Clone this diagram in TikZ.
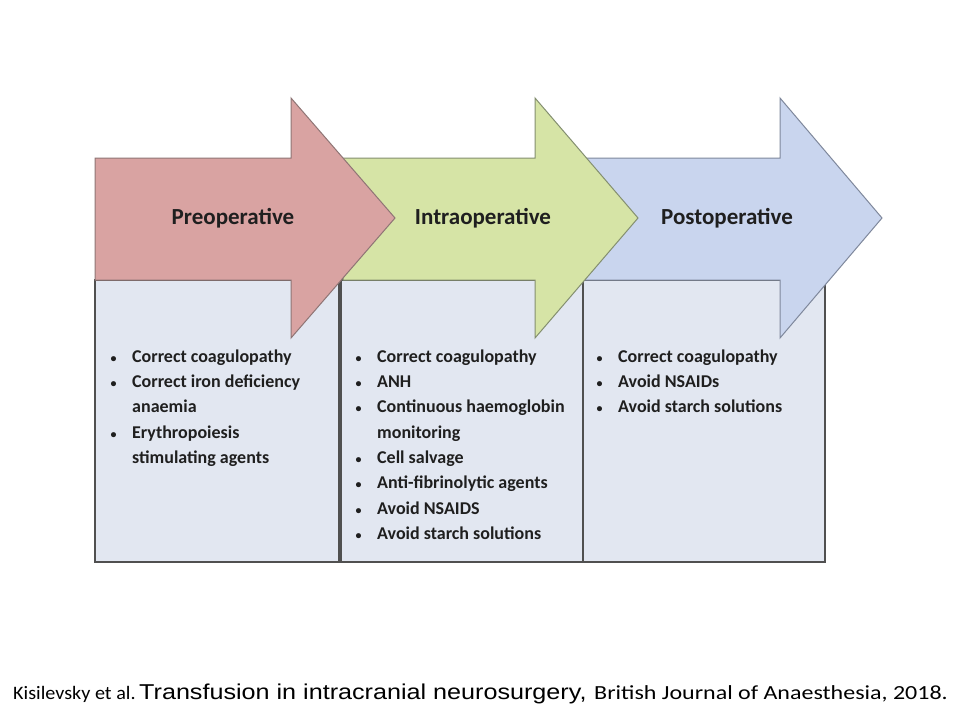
\documentclass[tikz,border=0pt]{standalone}
\usepackage{fontspec}
\usepackage{graphicx}
\setmainfont{Carlito}
\newfontfamily\arialf{Liberation Sans}
\definecolor{pinkf}{HTML}{D9A3A2}
\definecolor{pinkd}{HTML}{8F7575}
\definecolor{greenf}{HTML}{D6E4A6}
\definecolor{greend}{HTML}{848F70}
\definecolor{bluef}{HTML}{C9D5EE}
\definecolor{blued}{HTML}{7F889C}
\definecolor{boxf}{HTML}{E2E7F1}
\definecolor{boxd}{HTML}{505050}
\tikzset{
  lowbox/.style={fill=boxf, draw=boxd, line width=1.8pt},
  phase/.style={line width=1pt, line join=miter},
  title/.style={font=\fontsize{23}{27}\selectfont\bfseries, text=black!88, inner sep=0pt},
  blist/.style={font=\fontsize{18}{25.3}\selectfont\bfseries, text=black!88, inner sep=0pt, anchor=north west, align=left},
  foot/.style={inner sep=0pt, anchor=base west, text=black},
}
\newcommand{\bl}{\makebox[19pt][c]{\fontsize{12}{12}\selectfont\textbullet}}
\begin{document}
\begin{tikzpicture}[x=1pt,y=-1pt]
\useasboundingbox (0,0) rectangle (960,720);
\fill[white] (0,0) rectangle (960,720);
% lower boxes
\path[lowbox] (95,280) rectangle (339,562);
\path[lowbox] (341,280) rectangle (583,562);
\path[lowbox] (583,280) rectangle (825,562);
% arrows (drawn back to front)
\draw[phase, fill=bluef, draw=blued] (585,158) -- (780,158) -- (780,98) -- (882,218) -- (780,338) -- (780,280) -- (585,280) -- cycle;
\draw[phase, fill=greenf, draw=greend] (343,158) -- (535,158) -- (535,98) -- (638,218) -- (535,338) -- (535,280) -- (343,280) -- cycle;
\draw[phase, fill=pinkf, draw=pinkd] (95,158) -- (291,158) -- (291,98) -- (395,218) -- (291,338) -- (291,280) -- (95,280) -- cycle;
% titles
\node[title] (t1) at (233,218) {Preoperative};
\node[title] (t2) at (483,218) {Intraoperative};
\node[title] (t3) at (727,218) {Postoperative};
% bullet lists
\node[blist] (l1) at (104,344.3) {\begin{tabular}{@{}l@{\hspace{9pt}}l@{}}
\bl & Correct coagulopathy\\
\bl & Correct iron deficiency\\
 & anaemia\\
\bl & Erythropoiesis\\
 & stimulating agents
\end{tabular}};
\node[blist] (l2) at (349,344.3) {\begin{tabular}{@{}l@{\hspace{9pt}}l@{}}
\bl & Correct coagulopathy\\
\bl & ANH\\
\bl & Continuous haemoglobin\\
 & monitoring\\
\bl & Cell salvage\\
\bl & Anti-fibrinolytic agents\\
\bl & Avoid NSAIDS\\
\bl & Avoid starch solutions
\end{tabular}};
\node[blist] (l3) at (590,344.3) {\begin{tabular}{@{}l@{\hspace{9pt}}l@{}}
\bl & Correct coagulopathy\\
\bl & Avoid NSAIDs\\
\bl & Avoid starch solutions
\end{tabular}};
% footer
\node[foot] (f1) at (13,699) {\scalebox{1.06}[1]{\fontsize{19}{22}\selectfont Kisilevsky et al.}};
\node[foot] (f2) at (139,699) {\scalebox{1.17}[1]{\arialf\fontsize{21.5}{24}\selectfont Transfusion in intracranial neurosurgery,}};
\node[foot] (f3) at (594,699) {\scalebox{1.2}[1]{\fontsize{20}{22}\selectfont British Journal of Anaesthesia, 2018.}};
\end{tikzpicture}
\end{document}
